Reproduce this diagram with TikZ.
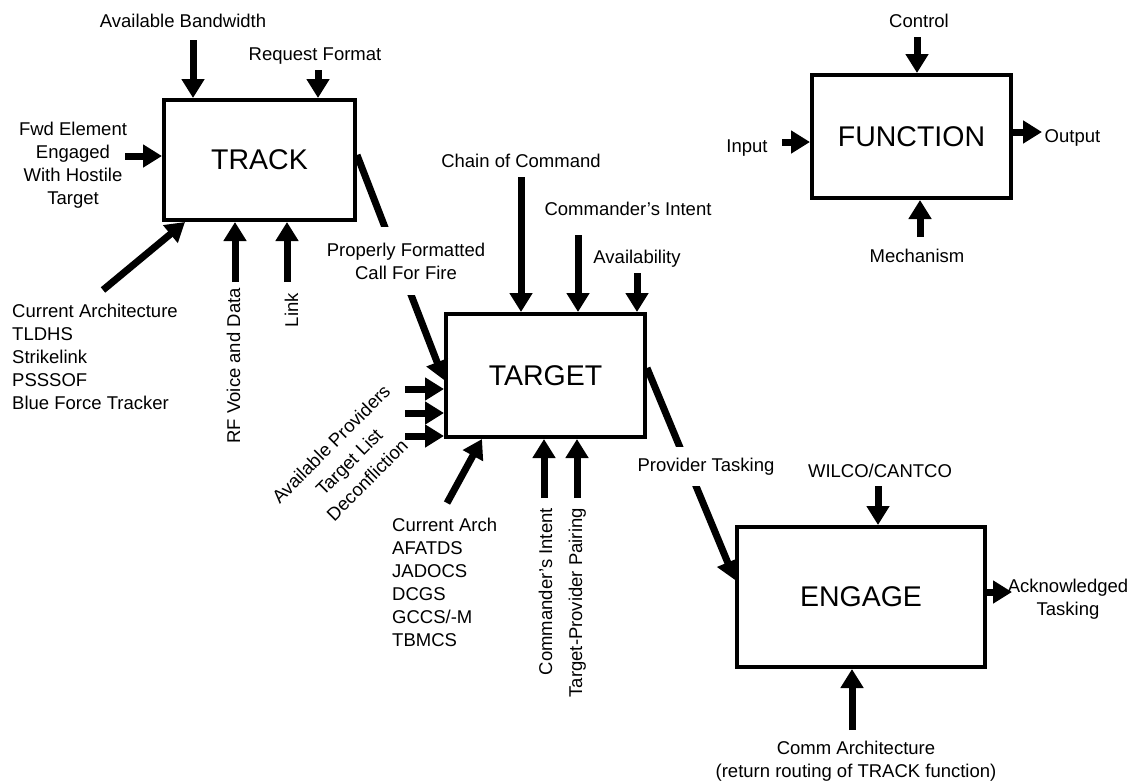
\documentclass[tikz,border=0pt]{standalone}
\usepackage{fontspec}
\setmainfont{Liberation Sans}
\usetikzlibrary{arrows.meta,calc}
\begin{document}
\begin{tikzpicture}[x=1pt,y=-1pt,
  box/.style={draw, line width=4.3pt, fill=white, inner sep=0pt,
    font=\fontsize{28.5}{34}\selectfont},
  flow/.style={line width=7pt, -{Triangle[width=22pt,length=19pt]}},
  lbl/.style={inner sep=0pt, font=\fontsize{18.5}{23}\selectfont},
  gap/.style={lbl, fill=white, inner xsep=4pt, inner ysep=11pt}
]
\useasboundingbox[fill=white] (0,0) rectangle (1137,780);

% activity boxes
\node[box, minimum width=190.7pt, minimum height=119.7pt] (track) at (259.5,160) {TRACK};
\node[box, minimum width=198.7pt, minimum height=122.7pt] (target) at (545.5,375.5) {TARGET};
\node[box, minimum width=247.7pt, minimum height=139.7pt] (engage) at (861,597) {ENGAGE};
\node[box, minimum width=198.7pt, minimum height=122.7pt] (function) at (911.5,136.5) {FUNCTION};

% ---- TRACK ----
\coordinate (bwS) at (193,40);
\coordinate (rqS) at (318,70);
\coordinate (fwdS) at (125,156);
\coordinate (curS) at (103,290);
\coordinate (rfvS) at (235,282);
\coordinate (lnkS) at (287,282);
\draw[flow] (bwS) -- (bwS |- track.north);
\draw[flow] (rqS) -- (rqS |- track.north);
\draw[flow] (fwdS) -- (fwdS -| track.west);
\draw[flow] (curS) -- ($(track.south west)+(23,0)$);
\draw[flow] (rfvS) -- (rfvS |- track.south);
\draw[flow] (lnkS) -- (lnkS |- track.south);

\node[lbl, anchor=base] (lbw) at (183,27) {Available Bandwidth};
\node[lbl, anchor=base] (lrq) at (315,60) {Request Format};
\node[lbl, align=center] (lfwd) at (73,165) {Fwd Element\\Engaged\\With Hostile\\Target};
\node[lbl, align=left, anchor=west] (lcur) at (12,357)
  {Current Architecture\\TLDHS\\Strikelink\\PSSSOF\\Blue Force Tracker};
\node[lbl, anchor=base east, rotate=90] (lrfv) at (240,288) {RF Voice and Data};
\node[lbl, anchor=base east, rotate=90] (llnk) at (298,293) {Link};

% TRACK -> TARGET
\draw[flow] ([yshift=5pt]track.east) -- ([yshift=-4.5pt]target.west);
\node[gap, align=center, inner ysep=0pt, minimum height=68pt] (lcff) at (406,261)
  {Properly Formatted\\Call For Fire};

% ---- TARGET ----
\coordinate (cocS) at (521,177);
\coordinate (ciS) at (578,235);
\coordinate (avS) at (637,273);
\coordinate (apS) at (405,389);
\coordinate (tlS) at (405,413);
\coordinate (dcS) at (405,436);
\coordinate (caS) at (447,503);
\coordinate (cibS) at (544,498);
\coordinate (tppS) at (577,498);
\draw[flow] (cocS) -- (cocS |- target.north);
\draw[flow] (ciS) -- (ciS |- target.north);
\draw[flow] (avS) -- (avS |- target.north);
\draw[flow] (apS) -- (apS -| target.west);
\draw[flow] (tlS) -- (tlS -| target.west);
\draw[flow] (dcS) -- (dcS -| target.west);
\draw[flow] (caS) -- ($(target.south west)+(38,0)$);
\draw[flow] (cibS) -- (cibS |- target.south);
\draw[flow] (tppS) -- (tppS |- target.south);

\node[lbl, anchor=base] (lcoc) at (521,167) {Chain of Command};
\node[lbl, anchor=base] (lci) at (628,215) {Commander's Intent};
\node[lbl, anchor=base] (lav) at (637,263) {Availability};
\node[lbl, align=center, rotate=45, font=\fontsize{18.5}{25.5}\selectfont] (lprov) at (349,462)
  {Available Providers\\Target List\\Deconfliction};
\node[lbl, align=left, anchor=west] (lca) at (392,582)
  {Current Arch\\AFATDS\\JADOCS\\DCGS\\GCCS/-M\\TBMCS};
\node[lbl, anchor=base east, rotate=90] (lcib) at (552,508) {Commander's Intent};
\node[lbl, anchor=base east, rotate=90] (ltpp) at (582,508) {Target-Provider Pairing};

% TARGET -> ENGAGE
\draw[flow] ([yshift=7.5pt]target.east) -- ([yshift=17pt]engage.west);
\node[gap, anchor=base] (lpt) at (706,471) {Provider Tasking};

% ---- ENGAGE ----
\coordinate (wcS) at (878,486);
\coordinate (ackE) at (1012,592);
\coordinate (cmS) at (852,730);
\draw[flow] (wcS) -- (wcS |- engage.north);
\draw[flow] (ackE -| engage.east) -- (ackE);
\draw[flow] (cmS) -- (cmS |- engage.south);

\node[lbl, anchor=base] (lwc) at (880,477) {WILCO/CANTCO};
\node[lbl, align=center] (lack) at (1068,599) {Acknowledged\\Tasking};
\node[lbl, align=center] (lcm) at (856,761)
  {Comm Architecture\\(return routing of TRACK function)};

% ---- FUNCTION legend ----
\coordinate (ctS) at (917,37);
\coordinate (inS) at (782,142);
\coordinate (outE) at (1042,132);
\coordinate (meS) at (920,237);
\draw[flow] (ctS) -- (ctS |- function.north);
\draw[flow] (inS) -- (inS -| function.west);
\draw[flow] (outE -| function.east) -- (outE);
\draw[flow] (meS) -- (meS |- function.south);

\node[lbl, anchor=base] (lct) at (919,27) {Control};
\node[lbl, anchor=base] (lin) at (747,152) {Input};
\node[lbl, anchor=base] (lout) at (1072.5,142) {Output};
\node[lbl, anchor=base] (lme) at (917,262) {Mechanism};
\end{tikzpicture}
\end{document}
